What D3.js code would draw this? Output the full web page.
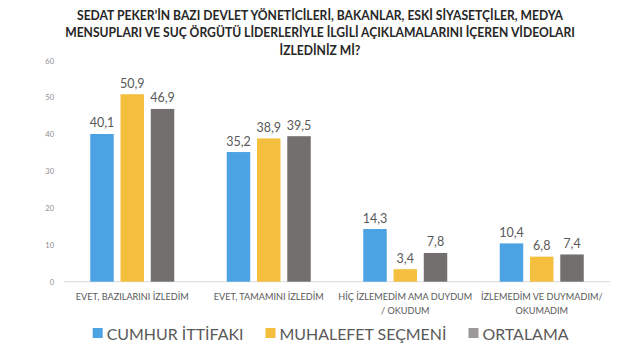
<!DOCTYPE html>
<html><head><meta charset="utf-8">
<script src="https://cdn.jsdelivr.net/npm/d3@7"></script>
<style>body{margin:0;background:#fff}svg{display:block}</style>
</head><body>
<svg id="c" width="640" height="355"></svg>
<script>
const titleLines = [
  "SEDAT PEKER’İN BAZI DEVLET YÖNETİCİLERİ, BAKANLAR, ESKİ SİYASETÇİLER, MEDYA",
  "MENSUPLARI VE SUÇ ÖRGÜTÜ LİDERLERİYLE İLGİLİ AÇIKLAMALARINI İÇEREN VİDEOLARI",
  "İZLEDİNİZ Mİ?"
];
const categories = [
  "EVET, BAZILARINI İZLEDİM",
  "EVET, TAMAMINI İZLEDİM",
  "HİÇ İZLEMEDİM AMA DUYDUM|/ OKUDUM",
  "İZLEMEDİM VE DUYMADIM/|OKUMADIM"
];
const seriesNames = ["CUMHUR İTTİFAKI", "MUHALEFET SEÇMENİ", "ORTALAMA"];
const cumhur    = [40.1, 35.2, 14.3, 10.4];
const muhalefet = [50.9, 38.9, 3.4, 6.8];
const ortalama  = [46.9, 39.5, 7.8, 7.4];
const yTicks = [0, 10, 20, 30, 40, 50, 60];

const seriesValues = [cumhur, muhalefet, ortalama];
const colors = ["#4BA3E3", "#F4BF3F", "#736F6F"];
const legendColors = ["#4BA3E3", "#F4BF3F", "#9A9898"];
const FONT = "Lato, 'Open Sans', sans-serif";
const locale = d3.formatLocale({decimal: ",", thousands: ".", grouping: [3], currency: ["", ""]});
const fmt = locale.format(".1f");

const svg = d3.select("#c");
svg.append("rect").attr("width", 640).attr("height", 355).attr("fill", "#fff");

// scales
const x0 = d3.scaleBand().domain(d3.range(categories.length)).range([64, 610]).padding(0);
const groupW = 84;
const x1 = d3.scaleBand().domain(d3.range(seriesNames.length)).range([0, groupW]).paddingInner(0.224);
const y = d3.scaleLinear().domain([0, 60]).range([281.7, 60.7]);
const gx = i => x0(i) + (x0.bandwidth() - groupW) / 2;

// title
const tg = svg.append("g");
const tTexts = tg.selectAll("text").data(titleLines).join("text")
  .attr("x", 320).attr("y", (d, i) => 20 + i * 17.5)
  .attr("text-anchor", "middle")
  .attr("font-family", FONT).attr("font-weight", 700)
  .attr("font-size", 13).attr("fill", "#262626")
  .text(d => d);
{
  const w = tTexts.nodes()[1].getComputedTextLength();
  const fs = 13 * 510 / w;
  tTexts.attr("font-size", fs * 1.07);
  const w2 = tTexts.nodes()[1].getComputedTextLength();
  tg.attr("transform", `translate(320,0) scale(${510 / w2},1) translate(-320,0)`);
}

// y axis
const yAxis = d3.axisLeft(y).tickValues(yTicks).tickSize(0).tickPadding(3);
const ya = svg.append("g").attr("transform", "translate(57,0)").call(yAxis);
ya.select(".domain").remove();
ya.selectAll("text").attr("font-family", FONT).attr("font-size", 7.5).attr("fill", "#8c8c8c");

// baseline
svg.append("line").attr("x1", 64).attr("x2", 610).attr("y1", y(0)).attr("y2", y(0))
  .attr("stroke", "#d9d9d9").attr("stroke-width", 1);

// bars
const groups = svg.append("g").selectAll("g").data(categories).join("g")
  .attr("transform", (d, i) => `translate(${gx(i)},0)`);
groups.each(function(c, ci) {
  const g = d3.select(this);
  const vals = seriesValues.map((s, si) => ({si, v: s[ci]}));
  g.selectAll("rect").data(vals).join("rect")
    .attr("x", d => x1(d.si)).attr("width", x1.bandwidth())
    .attr("y", d => y(d.v)).attr("height", d => y(0) - y(d.v))
    .attr("fill", d => colors[d.si]);
  g.selectAll("text").data(vals).join("text")
    .attr("x", d => x1(d.si) + x1.bandwidth() / 2)
    .attr("y", d => y(d.v) - 6.5)
    .attr("text-anchor", "middle")
    .attr("font-family", FONT).attr("font-size", 12.5).attr("fill", "#595959")
    .text(d => fmt(d.v));
});

// category labels
const cl = svg.append("g");
categories.forEach((c, i) => {
  const lines = c.split("|");
  const t = cl.append("text").attr("text-anchor", "middle")
    .attr("font-family", FONT).attr("font-size", 9.5).attr("fill", "#595959");
  lines.forEach((ln, k) => {
    t.append("tspan").attr("x", gx(i) + groupW / 2).attr("y", 300 + k * 14.3).text(ln);
  });
});
{
  const first = cl.select("text").node().getComputedTextLength();
  const fs = 9.5 * 113 / first;
  cl.selectAll("text").attr("font-size", fs);
}

// legend
const lg = svg.append("g");
const items = lg.selectAll("g").data(seriesNames).join("g");
items.append("rect").attr("width", 10).attr("height", 10).attr("y", 328)
  .attr("fill", (d, i) => legendColors[i]);
const lt = items.append("text").attr("y", 339.5)
  .attr("font-family", FONT).attr("font-size", 17).attr("fill", "#595959").text(d => d);
{
  let tot = 0; lt.each(function() { tot += this.getComputedTextLength(); });
  const fs = 17 * 390 / tot;
  lt.attr("font-size", fs);
  let xpos = 92.7;
  items.each(function() {
    const g = d3.select(this);
    g.select("rect").attr("x", xpos);
    const t = g.select("text").attr("x", xpos + 14);
    xpos += 14 + t.node().getComputedTextLength() + 22;
  });
}
</script>
</body></html>
